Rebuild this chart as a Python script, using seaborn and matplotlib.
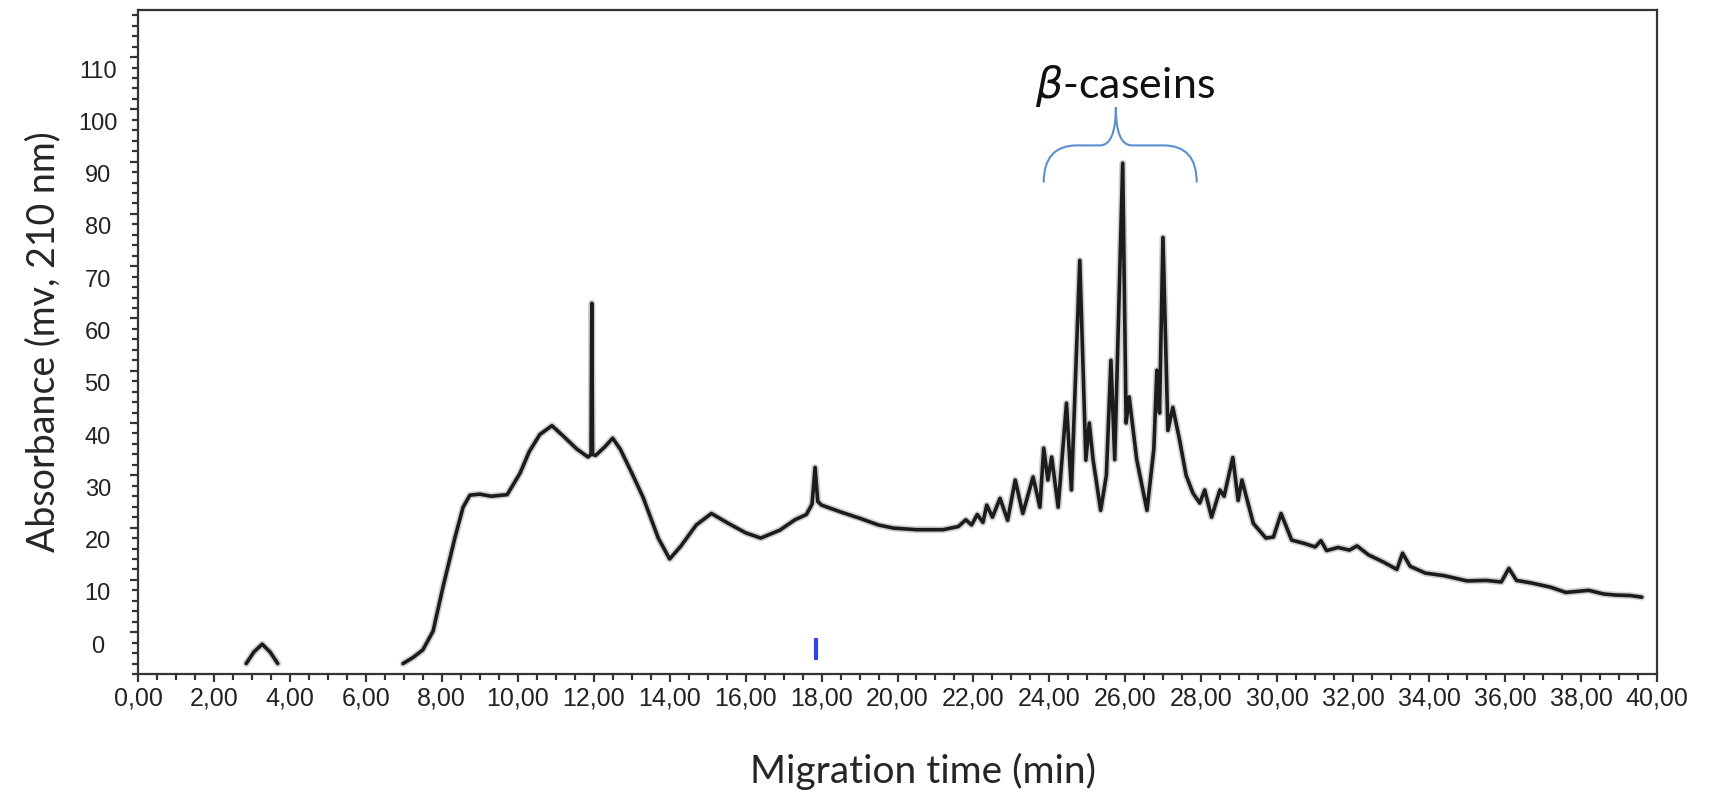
import numpy as np
import pandas as pd
import matplotlib
matplotlib.use("Agg")
import matplotlib.pyplot as plt
from matplotlib.path import Path
from matplotlib.patches import PathPatch
from matplotlib.transforms import ScaledTranslation
from matplotlib.ticker import MultipleLocator, FuncFormatter
import seaborn as sns

# electropherogram (min, mV); segment 0 = small bump, 1 = main trace
bump_time = [2.85, 3.05, 3.27, 3.48, 3.68]
bump_signal = [-6.0, -3.8, -2.3, -3.8, -6.0]

trace_time = [
    6.98, 7.25, 7.5, 7.77, 8.03, 8.35, 8.56, 8.74, 9.0, 9.3, 9.72, 10.06, 10.3,
    10.58, 10.9, 11.2, 11.56, 11.85, 11.93, 11.95, 11.97, 12.05, 12.3, 12.5, 12.7,
    13.0, 13.3, 13.7, 14.0, 14.3, 14.7, 15.1, 15.5, 16.0, 16.4, 16.9, 17.3, 17.6,
    17.75, 17.83, 17.9, 18.0, 18.5, 19.0, 19.5, 19.9, 20.5, 21.2, 21.6, 21.8, 21.95,
    22.1, 22.25, 22.35, 22.5, 22.7, 22.9, 23.1, 23.3, 23.57, 23.75, 23.85, 23.96,
    24.06, 24.23, 24.45, 24.58, 24.8, 24.96, 25.05, 25.15, 25.35, 25.5, 25.62,
    25.72, 25.93, 26.02, 26.1, 26.3, 26.57, 26.75, 26.83, 26.9, 26.99, 27.12,
    27.25, 27.43, 27.6, 27.78, 27.96, 28.09, 28.27, 28.49, 28.6, 28.83, 28.97,
    29.07, 29.37, 29.7, 29.9, 30.1, 30.38, 30.7, 31.0, 31.15, 31.3, 31.6, 31.9,
    32.1, 32.4, 32.8, 33.15, 33.3, 33.5, 33.9, 34.4, 35.0, 35.5, 35.9, 36.1,
    36.3, 36.7, 37.2, 37.6, 38.2, 38.6, 38.9, 39.3, 39.6,
]
trace_signal = [
    -6.0, -4.8, -3.4, 0.2, 8.6, 18.2, 23.9, 26.2, 26.4, 26.0, 26.3, 30.4, 34.5,
    37.8, 39.5, 37.5, 35.0, 33.5, 34.0, 62.9, 34.0, 33.8, 35.5, 37.1, 35.0,
    30.5, 25.8, 18.0, 14.0, 16.5, 20.5, 22.7, 21.0, 19.0, 18.0, 19.5, 21.5, 22.5,
    24.5, 31.5, 25.0, 24.3, 23.0, 21.8, 20.5, 19.9, 19.6, 19.6, 20.2, 21.5, 20.5,
    22.5, 21.0, 24.3, 22.0, 25.6, 21.4, 29.1, 22.7, 29.7, 23.9, 35.2, 29.1,
    33.5, 23.9, 43.8, 27.2, 71.1, 32.9, 40.0, 33.0, 23.3, 30.0, 52.0,
    33.0, 89.7, 40.0, 45.0, 33.0, 23.3, 35.0, 50.1, 41.9, 75.5, 38.6,
    43.0, 36.7, 30.0, 26.6, 24.7, 27.2, 22.0, 27.2, 26.0, 33.4, 25.2,
    29.1, 20.8, 18.0, 18.2, 22.7, 17.6, 17.0, 16.3, 17.5, 15.6, 16.2, 15.7,
    16.5, 14.8, 13.4, 12.0, 15.1, 12.6, 11.3, 10.8, 9.8, 9.9, 9.6, 12.2,
    9.9, 9.4, 8.6, 7.6, 8.0, 7.3, 7.1, 7.0, 6.7,
]

# injection marker (blue tick near the baseline)
marker_time = [17.85]
marker_low = [-5.3]
marker_high = [-1.2]

# brace over the beta-casein peaks (data coordinates)
brace_left, brace_right, brace_tip_x = 23.85, 27.88, 25.75
brace_foot, brace_bar, brace_tip_y = 86.0, 93.1, 100.4

x_ticks = np.arange(0, 41, 2)
y_ticks = np.arange(0, 111, 10)

df = pd.concat([
    pd.DataFrame({"time": bump_time, "signal": bump_signal, "segment": 0}),
    pd.DataFrame({"time": trace_time, "signal": trace_signal, "segment": 1}),
])

sns.set_style("ticks")
plt.rcParams["font.family"] = ["Liberation Sans", "DejaVu Sans"]

fig = plt.figure(figsize=(17.1, 7.94), dpi=100)
ax = fig.add_axes([138 / 1710, 120 / 794, (1657 - 138) / 1710, (674 - 10) / 794])

# soft halo under the trace, then the trace itself
sns.lineplot(data=df, x="time", y="signal", units="segment", estimator=None,
             color="#666666", lw=5.0, alpha=0.3, ax=ax, legend=False,
             solid_joinstyle="round", solid_capstyle="round")
sns.lineplot(data=df, x="time", y="signal", units="segment", estimator=None,
             color="#1c1c1c", lw=2.6, ax=ax, legend=False,
             solid_joinstyle="round", solid_capstyle="round")

ax.vlines(marker_time, marker_low, marker_high, colors="#3344ee", lw=3)

ax.set_xlim(0, 40)
ax.set_ylim(-8, 119)

ax.xaxis.set_major_locator(MultipleLocator(2))
ax.xaxis.set_minor_locator(MultipleLocator(0.5))
ax.yaxis.set_major_locator(MultipleLocator(10))
ax.yaxis.set_minor_locator(MultipleLocator(2))
ax.set_xticks(x_ticks)
ax.set_yticks(y_ticks)
ax.xaxis.set_major_formatter(FuncFormatter(lambda v, p: f"{v:.2f}".replace(".", ",")))

for s in ax.spines.values():
    s.set_color("#333333")
    s.set_linewidth(1.6)

ax.tick_params(axis="both", which="major", length=6, width=1.6, color="#333333",
               labelsize=17, labelcolor="#222222")
ax.tick_params(axis="x", which="major", labelsize=18)
ax.tick_params(axis="both", which="minor", length=4, width=1.6, color="#333333")
ax.tick_params(axis="x", which="major", pad=3)
ax.tick_params(axis="y", which="major", pad=23)

# y labels are centred and sit a little below their ticks
for lab in ax.get_yticklabels():
    lab.set_horizontalalignment("center")
    lab.set_transform(lab.get_transform() + ScaledTranslation(0, -12 / 100, fig.dpi_scale_trans))

ax.set_xlabel("Migration time (min)", fontsize=28, family=["Lato", "DejaVu Sans"])
ax.xaxis.set_label_coords(0.517, -0.118)
ax.set_ylabel("Absorbance (mv, 210 nm)", fontsize=27, family=["Lato", "DejaVu Sans"],
              labelpad=12)

# brace
r = 0.87
verts = [
    (brace_left, brace_foot), (brace_left, brace_bar), (brace_left + r, brace_bar),
    (brace_tip_x - 0.42, brace_bar),
    (brace_tip_x, brace_bar), (brace_tip_x, brace_tip_y),
    (brace_tip_x, brace_bar), (brace_tip_x + 0.42, brace_bar),
    (brace_right - r, brace_bar),
    (brace_right, brace_bar), (brace_right, brace_foot),
]
codes = [Path.MOVETO, Path.CURVE3, Path.CURVE3, Path.LINETO,
         Path.CURVE3, Path.CURVE3, Path.CURVE3, Path.CURVE3, Path.LINETO,
         Path.CURVE3, Path.CURVE3]
ax.add_patch(PathPatch(Path(verts, codes), fill=False, edgecolor="#5b8fcf", lw=1.5,
                       clip_on=False))

ax.text(26.0, 104.5, r"$\beta$-caseins", ha="center", va="center", fontsize=31,
        family=["Lato", "DejaVu Sans"], color="#111111")

fig.savefig("out.png", dpi=100)
